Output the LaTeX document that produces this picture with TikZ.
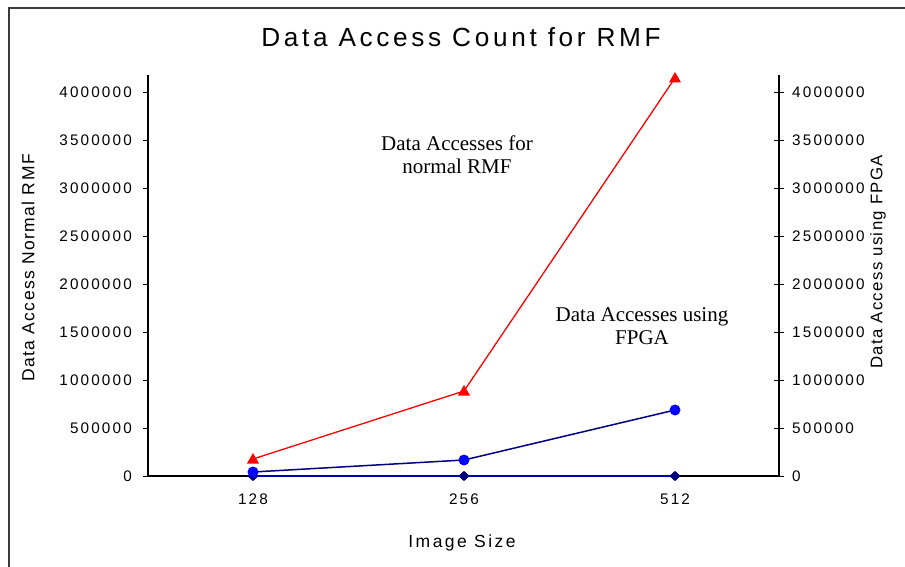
\documentclass[tikz,border=0pt]{standalone}
\usepackage{fontspec}
\setmainfont{Liberation Serif}
\newfontfamily\chartfont[LetterSpace=14]{Liberation Sans}
\newfontfamily\labfont[LetterSpace=8]{Liberation Sans}
\usetikzlibrary{shapes.geometric}
\definecolor{navyline}{RGB}{0,0,128}
\definecolor{zeroline}{RGB}{0,0,170}
\definecolor{mkblue}{RGB}{0,0,255}
\definecolor{mkred}{RGB}{255,0,0}
\definecolor{framegray}{RGB}{60,60,60}
\tikzset{
  axisline/.style={line width=1.2pt, black},
  tickline/.style={line width=1pt, black},
  ticklab/.style={inner sep=0pt, font=\chartfont\fontsize{15.3}{17}\selectfont},
  redmark/.style={regular polygon, regular polygon sides=3, fill=mkred, draw=none, minimum size=14pt, inner sep=0pt},
  bluemark/.style={circle, fill=mkblue, draw=none, minimum size=11pt, inner sep=0pt},
  diamark/.style={diamond, fill=navyline, draw=none, minimum width=11pt, minimum height=10pt, inner sep=0pt},
  redser/.style={line width=1.3pt, mkred},
  blueser/.style={line width=1.5pt, navyline},
  zeroser/.style={line width=1.5pt, zeroline},
  note/.style={align=center, inner sep=0pt, font=\fontsize{21}{23}\selectfont}
}
\begin{document}
\begin{tikzpicture}[x=1pt,y=-1pt]
\useasboundingbox (0,0) rectangle (905,567);
\fill[white] (0,0) rectangle (905,567);
% frame
\draw[framegray, line width=1.6pt] (9,567) -- (9,8) -- (905,8);
% title
\node[anchor=base, inner sep=0pt, font=\chartfont\fontsize{26.2}{29}\selectfont] (title) at (461,47) {Data Access Count for RMF};
% axes
\coordinate (ltop) at (148,75);
\coordinate (lzero) at (148,476);
\coordinate (rtop) at (779,75);
\coordinate (rzero) at (779,476);
\draw[axisline] (ltop) -- (lzero) -- (rzero) -- (rtop);
% ticks and labels
\foreach \v/\t in {0/0,1/500000,2/1000000,3/1500000,4/2000000,5/2500000,6/3000000,7/3500000,8/4000000}{
  \pgfmathsetmacro{\yy}{476-47.875*\v}
  \draw[tickline] (143,\yy) -- (148,\yy);
  \draw[tickline] (774,\yy) -- (784,\yy);
  \node[ticklab, anchor=base east] (ll\v) at (132,\yy+5) {\t};
  \node[ticklab, anchor=base west] (rl\v) at (792,\yy+5) {\t};
}
% x labels
\node[ticklab, anchor=base] (x128) at (253,504) {128};
\node[ticklab, anchor=base] (x256) at (464,504) {256};
\node[ticklab, anchor=base] (x512) at (675,504) {512};
\node[anchor=base, inner sep=0pt, font=\chartfont\fontsize{17.5}{19}\selectfont] (xlab) at (462,547) {Image Size};
% y labels
\node[rotate=90, inner sep=0pt, font=\labfont\fontsize{17.5}{19}\selectfont] (ylab) at (28,268) {Data Access Normal RMF};
\node[rotate=90, inner sep=0pt, font=\labfont\fontsize{16.8}{19}\selectfont] (y2lab) at (878,262) {Data Access using FPGA};
% series: zero (diamond)
\node[diamark] (d1) at (253,476) {};
\node[diamark] (d2) at (464,476) {};
\node[diamark] (d3) at (675,476) {};
\draw[zeroser] (d1.center) -- (d2.center) -- (d3.center);
\node[diamark] at (d1) {};
\node[diamark] at (d2) {};
\node[diamark] at (d3) {};
% series: red
\coordinate (r1) at (253,459);
\coordinate (r2) at (464,391);
\coordinate (r3) at (675,78);
\draw[redser] (r1) -- (r2) -- (r3);
\node[redmark] (rm1) at (253,460) {};
\node[redmark] (rm2) at (464,392) {};
\node[redmark] (rm3) at (675,79) {};
% series: blue
\coordinate (b1) at (253,472);
\coordinate (b2) at (464,460);
\coordinate (b3) at (675,410);
\draw[blueser] (b1) -- (b2) -- (b3);
\node[bluemark] (bm1) at (b1) {};
\node[bluemark] (bm2) at (b2) {};
\node[bluemark] (bm3) at (b3) {};
% notes
\node[note, anchor=base] (n1) at (457,174) {Data Accesses for\\normal RMF};
\node[note, anchor=base] (n2) at (642,344) {Data Accesses using\\FPGA};
\end{tikzpicture}
\end{document}
